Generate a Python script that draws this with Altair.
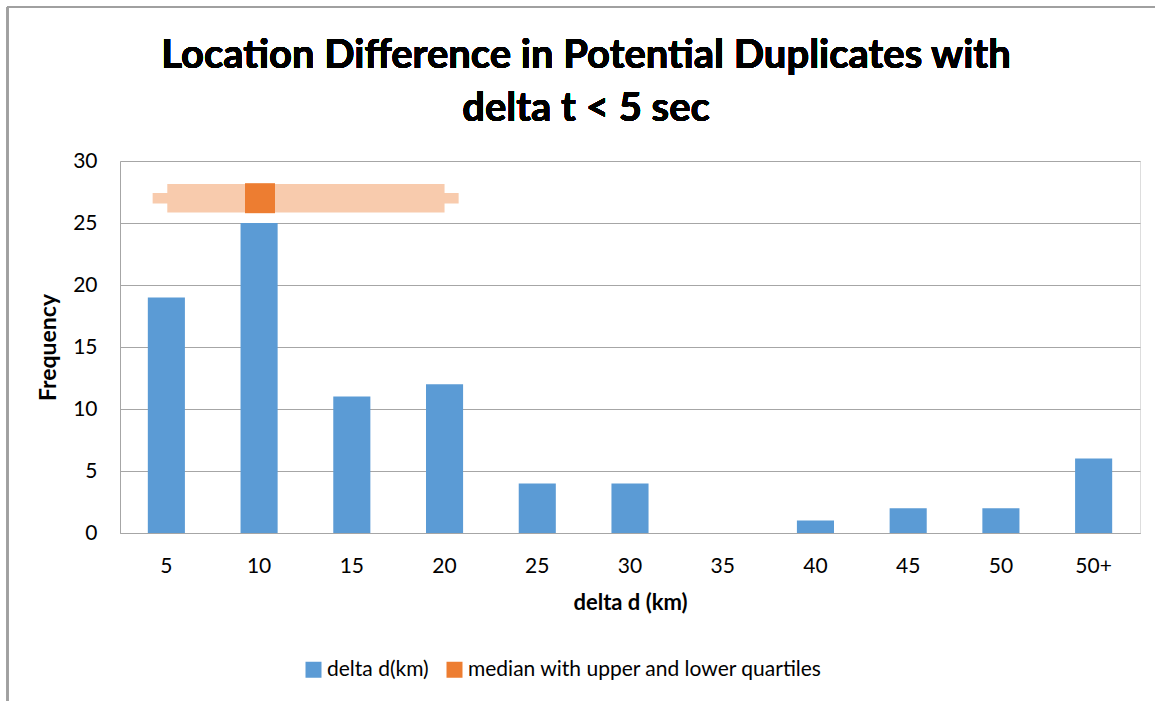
import altair as alt
import pandas as pd

# Histogram of location difference (km) between potential duplicates
bins = ["5", "10", "15", "20", "25", "30", "35", "40", "45", "50", "50+"]
counts = [19, 25, 11, 12, 4, 4, 0, 1, 2, 2, 6]

# Summary of the distances (km): whisker ends, quartiles and median
whisker_low, whisker_high = 4.26, 20.76
q1, q3 = 5.05, 20.0
median = 10.05
summary_level = 27  # frequency level at which the summary bar sits

series_names = ["delta d(km)", "median with upper and lower quartiles"]
series_colors = ["#5B9BD5", "#ED7D31"]
box_color = "#F8CBAD"

title_lines = ["Location Difference in Potential Duplicates with", "delta t < 5 sec"]

FONT = "Lato"

hist = pd.DataFrame({"bin": bins, "count": counts, "series": series_names[0]})
summary = pd.DataFrame({
    "lo": [whisker_low], "hi": [whisker_high],
    "q1": [q1], "q3": [q3], "med": [median],
    "level": [summary_level], "series": [series_names[1]],
})

color = alt.Color(
    "series:N",
    scale=alt.Scale(domain=series_names, range=series_colors),
    legend=alt.Legend(
        title=None, orient="none", direction="horizontal",
        legendX=183, legendY=498, symbolType="square", symbolSize=256,
        symbolStrokeWidth=0, labelFontSize=21, labelFont=FONT,
        labelColor="#000000", labelOffset=3, columnPadding=15,
        labelLimit=600,
    ),
)

y_scale = alt.Scale(domain=[0, 30])

bars = alt.Chart(hist).mark_bar().encode(
    x=alt.X(
        "bin:N", sort=bins,
        scale=alt.Scale(paddingInner=0.6, paddingOuter=0.3),
        axis=alt.Axis(
            title="delta d (km)", labelAngle=0, ticks=False, domainColor="#A6A6A6",
            labelFontSize=21, labelFont=FONT, labelColor="#000000", labelPadding=22,
            titleFontSize=22, titleFont=FONT, titleFontWeight="bold",
            titleColor="#000000", titlePadding=16,
        ),
    ),
    y=alt.Y(
        "count:Q", scale=y_scale,
        axis=alt.Axis(
            title="Frequency", values=[0, 5, 10, 15, 20, 25, 30], ticks=False,
            domainColor="#A6A6A6", gridColor="#A6A6A6", grid=True,
            labelFontSize=21, labelFont=FONT, labelColor="#000000", labelPadding=23,
            titleFontSize=23, titleFont=FONT, titleFontWeight="bold",
            titleColor="#000000", titlePadding=12,
        ),
    ),
    color=color,
)

# continuous km scale aligned with the bin centres (5 km per band)
km = alt.Scale(domain=[2.5, 57.5])

whisker = alt.Chart(summary).mark_rule(color=box_color, strokeWidth=10.5).encode(
    x=alt.X("lo:Q", scale=km, axis=None), x2="hi:Q",
    y=alt.Y("level:Q", scale=y_scale),
)
box = alt.Chart(summary).mark_rule(color=box_color, strokeWidth=28.5).encode(
    x=alt.X("q1:Q", scale=km, axis=None), x2="q3:Q",
    y=alt.Y("level:Q", scale=y_scale),
)
med = alt.Chart(summary).mark_square(size=900, opacity=1, filled=True).encode(
    x=alt.X("med:Q", scale=km, axis=None),
    y=alt.Y("level:Q", scale=y_scale),
    color=color,
)

# chart-area frame (left and top edges)
frame_left = alt.Chart(hist).mark_rule(color="#A0A0A0", strokeWidth=1.5).encode(
    x=alt.value(-112.5), y=alt.value(-154), y2=alt.value(540)
)
frame_top = alt.Chart(hist).mark_rule(color="#A0A0A0", strokeWidth=1.5).encode(
    x=alt.value(-112.5), x2=alt.value(1035), y=alt.value(-154)
)

# two-line chart title
title_marks = [
    alt.Chart(hist).mark_text(
        font=FONT, fontSize=40, fontWeight="bold", color="#000000",
        align="center", baseline="alphabetic",
    ).encode(x=alt.value(466), y=alt.value(y), text=alt.value(line))
    for line, y in zip(title_lines, [-93, -40])
]

chart = alt.layer(
    bars, whisker, box, med, frame_left, frame_top, *title_marks
).resolve_scale(
    x="independent"
).properties(
    width=1020,
    height=372,
    autosize=alt.AutoSizeParams(type="none"),
    padding={"left": 120, "top": 161, "right": 15, "bottom": 168},
).configure_view(stroke=None).configure(background="#FFFFFF")

chart.save("out.html", embed_options={"renderer": "svg", "actions": False})
